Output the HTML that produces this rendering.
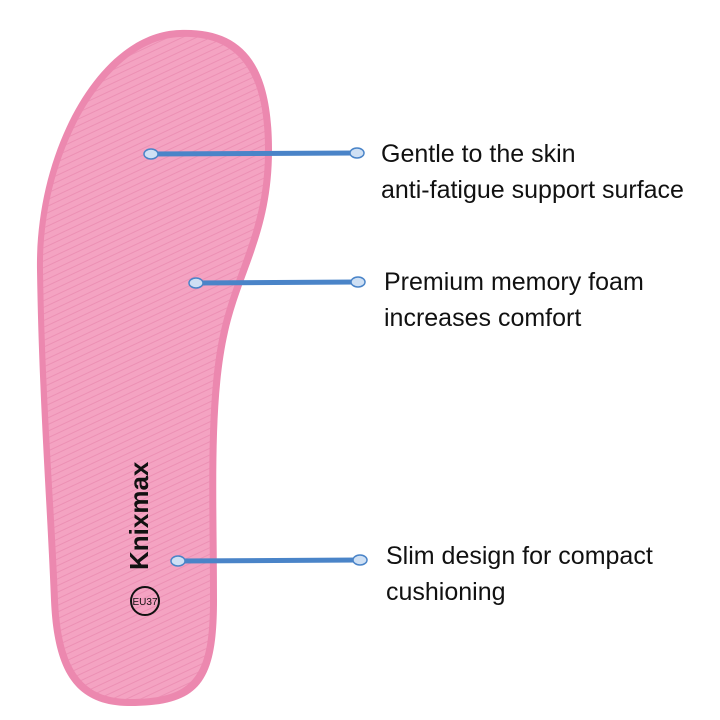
<!DOCTYPE html>
<html><head><meta charset="utf-8"><style>
body{margin:0;background:#fff;width:720px;height:720px;overflow:hidden;position:relative;font-family:"Liberation Sans",sans-serif}
.t{position:absolute;font-size:25px;color:#111;line-height:36px}
</style></head><body>
<svg width="720" height="720" style="position:absolute;left:0;top:0">
<defs>
<pattern id="p" width="6" height="6" patternUnits="userSpaceOnUse" patternTransform="rotate(-25)">
<rect width="6" height="6" fill="#f4a3c2"/><line x1="0" y1="3" x2="6" y2="3" stroke="#ec90b4" stroke-width="1"/>
</pattern>
</defs>
<path d="M180 30 C240 28 272 60 272 150 C272 232 242 270 228 332 C212 402 217 500 217 600 C217 682 200 706 130 706 C74 706 54 670 51 600 C47 500 39 400 37 270 C35 150 100 32 180 30 Z" fill="#ec88af"/>
<path d="M180 37 C234 35 265 66 265 150 C265 228 236 266 221 330 C205 400 210 500 210 600 C210 676 194 699 130 699 C80 699 61 666 58 600 C54 500 45 400 43 270 C41 156 104 40 180 37 Z" fill="url(#p)"/>
<g stroke="#4a84c8" stroke-width="5" stroke-linecap="round">
<line x1="150" y1="154" x2="357" y2="153"/>
<line x1="195" y1="283" x2="358" y2="282"/>
<line x1="178" y1="561" x2="360" y2="560"/>
</g>
<g fill="#cfe0f4" stroke="#4a84c8" stroke-width="1.5">
<ellipse cx="151" cy="154" rx="7" ry="5"/><ellipse cx="357" cy="153" rx="7" ry="5"/>
<ellipse cx="196" cy="283" rx="7" ry="5"/><ellipse cx="358" cy="282" rx="7" ry="5"/>
<ellipse cx="178" cy="561" rx="7" ry="5"/><ellipse cx="360" cy="560" rx="7" ry="5"/>
</g>
<text x="0" y="0" transform="translate(148,570) rotate(-90)" font-family="Liberation Sans,sans-serif" font-weight="bold" font-size="26" fill="#111">Knixmax</text>
<circle cx="145" cy="601" r="14" fill="none" stroke="#111" stroke-width="2"/>
<text x="145" y="605" text-anchor="middle" font-family="Liberation Sans,sans-serif" font-size="10" fill="#111">EU37</text>
</svg>
<div class="t" style="left:381px;top:136px">Gentle to the skin<br>anti-fatigue support surface</div>
<div class="t" style="left:384px;top:264px">Premium memory foam<br>increases comfort</div>
<div class="t" style="left:386px;top:538px">Slim design for compact<br>cushioning</div>
</body></html>
